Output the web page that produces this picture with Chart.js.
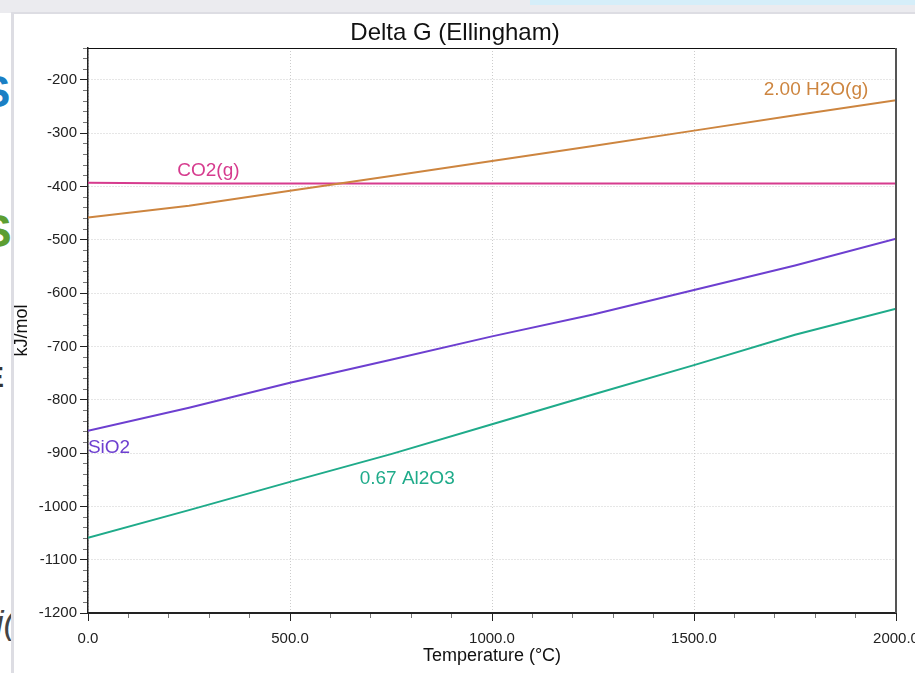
<!DOCTYPE html>
<html lang="en">
<head>
<meta charset="UTF-8">
<title>Delta G (Ellingham)</title>
<script src="https://cdn.jsdelivr.net/npm/chart.js"></script>
<style>
  html, body { margin: 0; padding: 0; width: 915px; height: 673px; overflow: hidden; background: #fff; }
  .topbar { position: absolute; left: 0; top: 0; width: 915px; height: 13px; background: #ebebef; }
  .bluebar { position: absolute; left: 530px; top: 0; width: 385px; height: 5px; background: #d5eef9; }
  .panel { position: absolute; left: 11px; top: 12px; width: 920px; height: 680px; border-left: 3px solid #dddde3; border-top: 2px solid #dddde3; background: #fff; }
  .edge { position: absolute; left: 0; top: 13px; width: 11px; height: 660px; overflow: hidden; font-family: "Liberation Sans", Arial, sans-serif; }
  .edge span { position: absolute; font-weight: bold; line-height: 1; }
  #wrap { position: absolute; left: 14px; top: 14px; width: 906px; height: 659px; }
</style>
</head>
<body>
  <div class="topbar"></div>
  <div class="bluebar"></div>
  <div class="edge">
    <span style="left:-19px; top:57px; font-size:44px; color:#1a7fc4;">S</span>
    <span style="left:-19px; top:195px; font-size:46px; color:#5c9e32;">S</span>
    <span style="left:-16px; top:349px; font-size:30px; color:#333;">E</span>
    <span style="left:-4px; top:592px; font-size:34px; color:#444; font-weight:normal; font-style:italic;">i(</span>
  </div>
  <div class="panel"></div>

  <div id="wrap">
    <canvas id="grafico" width="906" height="659"></canvas>
  </div>

  <script>
    // temperaturas (°C) e Delta G (kJ/mol)
    const temps = [0, 250, 500, 750, 1000, 1250, 1500, 1750, 2000];
    const h2o = [-458, -436, -408, -380, -352, -324, -295, -266, -238];
    const co2 = [-393, -394, -394, -394, -394, -394, -394, -394, -394];
    const sio2 = [-858, -815, -768, -725, -681, -640, -594, -548, -498];
    const al2o3 = [-1059, -1007, -954, -902, -846, -790, -735, -678, -629];

    const nomes = ["2.00 H2O(g)", "CO2(g)", "SiO2", "0.67 Al2O3"];
    const cores = ["#cd853f", "#d63b8e", "#6d3fd0", "#1fab8a"];
    // onde fica o rótulo de cada curva (em unidades do gráfico)
    const rotuloT = [1802, 298, 52, 790];
    const rotuloG = [-219, -370, -890, -948];

    const fonte = "'Liberation Sans', Arial, sans-serif";
    const series = [h2o, co2, sio2, al2o3];

    const rotulos = {
      id: "rotulos",
      afterDatasetsDraw(chart) {
        const c = chart.ctx;
        const sx = chart.scales.x, sy = chart.scales.y;
        c.save();
        c.font = "19px " + fonte;
        c.textAlign = "center";
        c.textBaseline = "middle";
        nomes.forEach((n, i) => {
          c.fillStyle = cores[i];
          c.fillText(n, sx.getPixelForValue(rotuloT[i]), sy.getPixelForValue(rotuloG[i]));
        });
        c.restore();
      }
    };

    const moldura = {
      id: "moldura",
      afterDraw(chart) {
        const a = chart.chartArea, c = chart.ctx;
        c.save();
        c.strokeStyle = "#111";
        c.lineWidth = 1;
        c.beginPath();
        c.moveTo(a.left, a.top + 0.5);
        c.lineTo(a.right, a.top + 0.5);
        c.stroke();
        c.strokeStyle = "#555";
        c.lineWidth = 2;
        c.beginPath();
        c.moveTo(a.right, a.top);
        c.lineTo(a.right, a.bottom);
        c.stroke();
        c.restore();
      }
    };

    const ctx = document.getElementById("grafico").getContext("2d");
    new Chart(ctx, {
      type: "line",
      data: {
        datasets: series.map((s, i) => ({
          label: nomes[i],
          data: temps.map((t, k) => ({ x: t, y: s[k] })),
          borderColor: cores[i],
          borderWidth: 2,
          pointRadius: 0,
          fill: false,
          tension: 0
        }))
      },
      options: {
        responsive: false,
        animation: false,
        devicePixelRatio: 1,
        layout: { padding: { top: 0, right: 24, bottom: 6, left: 0 } },
        plugins: {
          legend: { display: false },
          tooltip: { enabled: false },
          title: {
            display: true,
            text: "Delta G (Ellingham)",
            color: "#111",
            font: { family: fonte, size: 24, weight: "normal", lineHeight: 1.2 },
            padding: { top: 5, bottom: 0.2 }
          }
        },
        scales: {
          x: {
            type: "linear",
            min: 0,
            max: 2000,
            ticks: {
              stepSize: 100,
              padding: 9,
              color: "#222",
              font: { family: fonte, size: 15 },
              maxRotation: 0,
              autoSkip: false,
              callback: v => (v % 500 === 0 ? v.toFixed(1) : "")
            },
            grid: {
              color: c => (c.tick && c.tick.value % 500 === 0 ? "#cccccc" : "rgba(0,0,0,0)"),
              tickLength: 8,
              tickColor: c => (c.tick && c.tick.value % 500 === 0 ? "#222" : "#777"),
              tickBorderDash: c => (c.tick && c.tick.value % 500 === 0 ? [] : [4, 20])
            },
            border: { color: "#222", width: 2, dash: [1, 2] },
            title: {
              display: true,
              text: "Temperature (°C)",
              color: "#111",
              font: { family: fonte, size: 18 },
              padding: 0
            },
            afterFit(s) {
              s.height = 54;
              s.paddingLeft = 0;
              s.paddingRight = 0;
            }
          },
          y: {
            type: "linear",
            min: -1200,
            max: -140,
            ticks: {
              stepSize: 20,
              padding: 3,
              color: "#222",
              font: { family: fonte, size: 15 },
              autoSkip: false,
              callback: v => (v % 100 === 0 ? String(v) : "")
            },
            grid: {
              color: c => (c.tick && c.tick.value % 100 === 0 ? "#cccccc" : "rgba(0,0,0,0)"),
              tickLength: 8,
              tickColor: c => (c.tick && c.tick.value % 100 === 0 ? "#222" : "#777"),
              tickBorderDash: c => (c.tick && c.tick.value % 100 === 0 ? [] : [0, 3, 6, 20])
            },
            border: { color: "#222", width: 1.5, dash: [1, 2] },
            title: {
              display: true,
              text: "kJ/mol",
              color: "#111",
              font: { family: fonte, size: 18, lineHeight: 0.9 },
              padding: 0
            },
            afterFit(s) {
              s.width = 74;
              s.paddingTop = 0;
              s.paddingBottom = 0;
            }
          }
        }
      },
      plugins: [rotulos, moldura]
    });
  </script>
</body>
</html>
